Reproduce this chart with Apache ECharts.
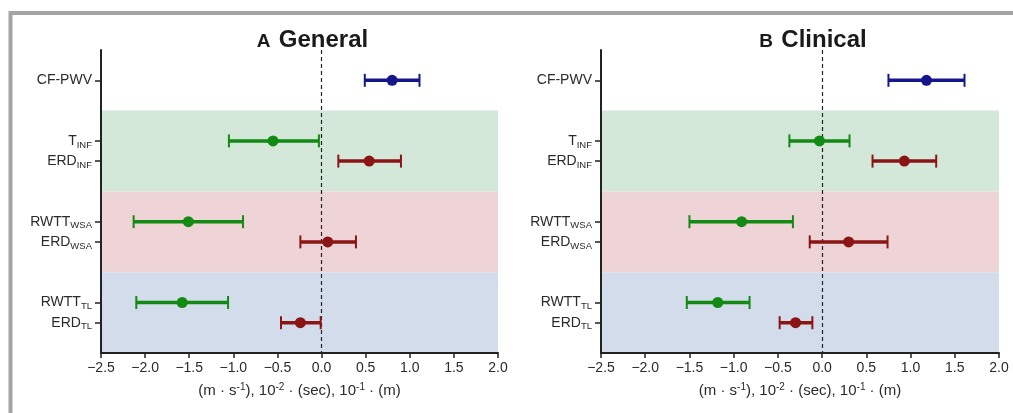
<!DOCTYPE html>
<html>
<head>
<meta charset="utf-8">
<script src="https://cdn.jsdelivr.net/npm/echarts@6/dist/echarts.min.js"></script>
<style>
html,body{margin:0;padding:0;background:#fff;}
#chart{width:1013px;height:413px;}
</style>
</head>
<body>
<div id="chart"></div>
<script>
// ---- data ----
const rowLabels = ['CF-PWV', 'T{s|INF}', 'ERD{s|INF}', 'RWTT{s|WSA}', 'ERD{s|WSA}', 'RWTT{s|TL}', 'ERD{s|TL}'];
const rowPos = [1.5, 4.5, 5.5, 8.5, 9.5, 12.5, 13.5];
const rowKind = ['pwv', 'tt', 'erd', 'tt', 'erd', 'tt', 'erd'];

const generalMid = [0.80, -0.55, 0.54, -1.51, 0.07, -1.58, -0.24];
const generalLo  = [0.49, -1.05, 0.19, -2.13, -0.24, -2.10, -0.46];
const generalHi  = [1.11, -0.03, 0.90, -0.89, 0.39, -1.06, -0.01];

const clinicalMid = [1.18, -0.03, 0.93, -0.91, 0.30, -1.18, -0.30];
const clinicalLo  = [0.75, -0.37, 0.57, -1.50, -0.14, -1.53, -0.48];
const clinicalHi  = [1.61, 0.31, 1.29, -0.33, 0.74, -0.82, -0.11];

const bandEdges = [3, 7, 11, 15];
const xTicks = [-2.5, -2.0, -1.5, -1.0, -0.5, 0.0, 0.5, 1.0, 1.5, 2.0];
const titles = [['A', 'General'], ['B', 'Clinical']];

// ---- styles ----
const kindColor = { pwv: '#16168c', tt: '#138a13', erd: '#8b1515' };
const bandColors = ['#d4e8d9', '#eed4d6', '#d3dcea'];
const FONT = '"Liberation Sans", Arial, Helvetica, sans-serif';
const textColor = '#2a2a2a';

const grids = [
  { left: 101, top: 50, width: 397, height: 303 },
  { left: 601, top: 50, width: 398, height: 303 }
];

function fmtTick(v) {
  const s = Math.abs(v).toFixed(1);
  return v < -1e-9 ? '\u2212' + s : s;
}

const xAxes = grids.map((g, i) => ({
  type: 'value', gridIndex: i, min: -2.5, max: 2.0, interval: 0.5, z: 10,
  splitLine: { show: false },
  axisLine: { show: true, onZero: false, lineStyle: { color: '#222', width: 2 } },
  axisTick: { show: true, length: 5, lineStyle: { color: '#222', width: 1.5 }, customValues: xTicks },
  axisLabel: { color: textColor, fontSize: 14, fontFamily: FONT, margin: 8, formatter: fmtTick, customValues: xTicks },
  name: '(m · s{sup|-1}), 10{sup|-2} · (sec), 10{sup|-1} · (m)',
  nameLocation: 'middle', nameGap: 29,
  nameTextStyle: {
    color: textColor, fontSize: 15, fontFamily: FONT,
    rich: { sup: { fontSize: 10, fontFamily: FONT, color: textColor, padding: [0, 0, 8, 0] } }
  }
}));

const yAxes = grids.map((g, i) => ({
  type: 'value', gridIndex: i, min: 0, max: 15, inverse: true, z: 10,
  splitLine: { show: false },
  axisLine: { show: true, onZero: false, lineStyle: { color: '#222', width: 2 } },
  axisTick: { show: true, length: 6, lineStyle: { color: '#222', width: 1.5 }, customValues: rowPos },
  axisLabel: {
    show: true, color: textColor, fontSize: 14, fontFamily: FONT, margin: 9,
    customValues: rowPos,
    formatter: v => { const k = rowPos.indexOf(v); return k >= 0 ? rowLabels[k] : ''; },
    rich: { s: { fontSize: 9.5, fontFamily: FONT, color: textColor, padding: [8, 0, 0, 0] } }
  }
}));

function errSeries(i, lo, hi) {
  const data = rowPos.map((y, k) => [lo[k], hi[k], y, k]);
  const bands = [];
  for (let b = 0; b < 3; b++) {
    bands.push([
      { xAxis: -2.5, yAxis: bandEdges[b], itemStyle: { color: bandColors[b], opacity: 1 } },
      { xAxis: 2.0, yAxis: bandEdges[b + 1] }
    ]);
  }
  return {
    type: 'custom', xAxisIndex: i, yAxisIndex: i, z: 3,
    data: data,
    encode: { x: [0, 1], y: 2 },
    renderItem: (params, api) => {
      const k = api.value(3);
      const c = kindColor[rowKind[k]];
      const p1 = api.coord([api.value(0), api.value(2)]);
      const p2 = api.coord([api.value(1), api.value(2)]);
      const h = 6.5;
      return {
        type: 'group',
        children: [
          { type: 'line', shape: { x1: p1[0], y1: p1[1], x2: p2[0], y2: p2[1] }, style: { stroke: c, lineWidth: 3.5 } },
          { type: 'line', shape: { x1: p1[0], y1: p1[1] - h, x2: p1[0], y2: p1[1] + h }, style: { stroke: c, lineWidth: 2 } },
          { type: 'line', shape: { x1: p2[0], y1: p2[1] - h, x2: p2[0], y2: p2[1] + h }, style: { stroke: c, lineWidth: 2 } }
        ]
      };
    },
    markArea: { silent: true, z: 1, data: bands },
    markLine: {
      silent: true, symbol: ['none', 'none'], z: 2,
      label: { show: false },
      lineStyle: { color: '#222', type: [4, 3], width: 1.2 },
      data: [{ xAxis: 0 }]
    }
  };
}

function dotSeries(i, mid) {
  return {
    type: 'scatter', xAxisIndex: i, yAxisIndex: i, z: 4,
    symbol: 'circle', symbolSize: 11,
    data: rowPos.map((y, k) => ({ value: [mid[k], y], itemStyle: { color: kindColor[rowKind[k]], opacity: 1 } }))
  };
}

const titleOpts = titles.map((t, i) => ({
  text: '{a|' + t[0] + '}{sp| }{b|' + t[1] + '}',
  left: grids[i].left + grids[i].width / 2 + 8,
  top: 19,
  textAlign: 'center',
  textStyle: {
    rich: {
      a: { fontSize: 19, fontWeight: 'bold', fontFamily: FONT, color: '#1a1a1a', verticalAlign: 'bottom', lineHeight: 28, padding: [0, 0, 1, 0] },
      sp: { fontSize: 19, lineHeight: 28, padding: [0, 3, 0, 0] },
      b: { fontSize: 24, fontWeight: 'bold', fontFamily: FONT, color: '#1a1a1a', verticalAlign: 'bottom', lineHeight: 28 }
    }
  }
}));

const chart = echarts.init(document.getElementById('chart'), null, { renderer: 'canvas' });
chart.setOption({
  animation: false,
  backgroundColor: '#fff',
  title: titleOpts,
  grid: grids,
  xAxis: xAxes,
  yAxis: yAxes,
  graphic: [{
    type: 'rect', silent: true, z: 100,
    shape: { x: 10.5, y: 13, width: 1012, height: 410 },
    style: { fill: 'none', stroke: '#a4a4a4', lineWidth: 4 }
  }],
  series: [
    errSeries(0, generalLo, generalHi), dotSeries(0, generalMid),
    errSeries(1, clinicalLo, clinicalHi), dotSeries(1, clinicalMid)
  ]
});
</script>
</body>
</html>
